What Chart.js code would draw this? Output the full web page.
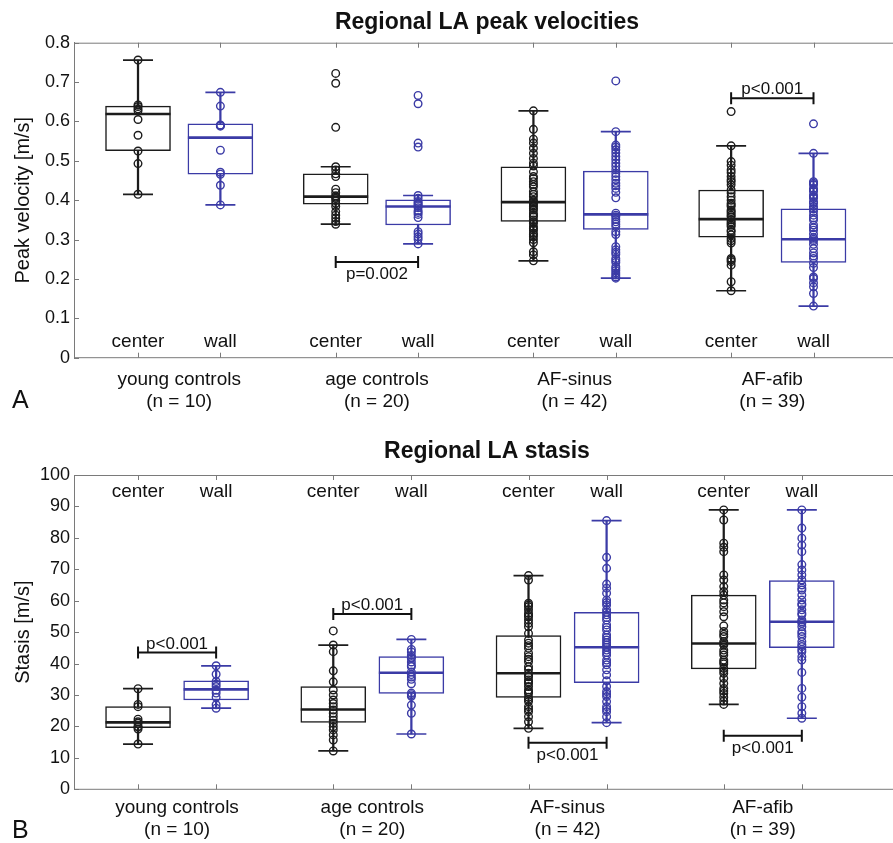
<!DOCTYPE html>
<html><head><meta charset="utf-8">
<script src="https://cdn.jsdelivr.net/npm/chart.js@4.4.1/dist/chart.umd.min.js"></script>
<style>
html,body{margin:0;padding:0;background:#fff;overflow:hidden;width:893px;height:843px;position:relative}
canvas{position:absolute;left:0}
#c1{top:0}#c2{top:420px}
</style></head>
<body>
<canvas id="c1" width="920" height="420"></canvas>
<canvas id="c2" width="920" height="423"></canvas>
<script>
// ---------- shared categories ----------
const groups = ['young controls', 'age controls', 'AF-sinus', 'AF-afib'];
const groupN = [10, 20, 42, 39];
const seriesNames = ['center', 'wall'];

// ---------- Panel A: peak velocity [m/s] ----------
const velTicks = [0, 0.1, 0.2, 0.3, 0.4, 0.5, 0.6, 0.7, 0.8];
const velCenterLow  = [0.415, 0.339, 0.246, 0.170];
const velCenterQ1   = [0.526, 0.390, 0.346, 0.306];
const velCenterMed  = [0.619, 0.409, 0.395, 0.352];
const velCenterQ3   = [0.639, 0.467, 0.485, 0.426];
const velCenterHigh = [0.756, 0.485, 0.627, 0.538];
const velWallLow  = [0.388, 0.289, 0.202, 0.131];
const velWallQ1   = [0.466, 0.337, 0.326, 0.242];
const velWallMed  = [0.559, 0.384, 0.364, 0.301];
const velWallQ3   = [0.594, 0.401, 0.474, 0.378];
const velWallHigh = [0.674, 0.412, 0.574, 0.519];
const velCenterYoung = [0.756, 0.642, 0.638, 0.632, 0.627, 0.605, 0.565, 0.525, 0.493, 0.415];
const velCenterAge = [0.722, 0.697, 0.585, 0.485, 0.477, 0.467, 0.460, 0.428, 0.419, 0.411, 0.408, 0.405, 0.399, 0.392, 0.384, 0.371, 0.362, 0.354, 0.346, 0.339];
const velCenterSinus = [0.627, 0.580, 0.555, 0.545, 0.532, 0.519, 0.506, 0.494, 0.487, 0.472, 0.460, 0.455, 0.447, 0.440, 0.434, 0.422, 0.415, 0.409, 0.400, 0.396, 0.392, 0.388, 0.384, 0.379, 0.375, 0.367, 0.362, 0.358, 0.350, 0.345, 0.341, 0.333, 0.328, 0.324, 0.316, 0.312, 0.307, 0.300, 0.292, 0.269, 0.261, 0.246];
const velCenterAfib = [0.625, 0.538, 0.498, 0.489, 0.477, 0.470, 0.460, 0.452, 0.447, 0.439, 0.426, 0.418, 0.409, 0.400, 0.392, 0.388, 0.384, 0.375, 0.371, 0.367, 0.362, 0.358, 0.350, 0.345, 0.341, 0.337, 0.333, 0.324, 0.320, 0.312, 0.303, 0.297, 0.291, 0.252, 0.248, 0.244, 0.235, 0.193, 0.170];
const velWallYoung = [0.674, 0.639, 0.591, 0.590, 0.588, 0.527, 0.471, 0.466, 0.438, 0.388];
const velWallAge = [0.666, 0.645, 0.545, 0.535, 0.412, 0.405, 0.397, 0.393, 0.390, 0.386, 0.381, 0.373, 0.369, 0.364, 0.356, 0.320, 0.314, 0.307, 0.301, 0.289];
const velWallSinus = [0.703, 0.574, 0.540, 0.535, 0.528, 0.520, 0.511, 0.503, 0.494, 0.486, 0.477, 0.468, 0.460, 0.452, 0.443, 0.437, 0.430, 0.420, 0.406, 0.367, 0.362, 0.358, 0.351, 0.345, 0.339, 0.333, 0.320, 0.313, 0.282, 0.274, 0.268, 0.263, 0.252, 0.247, 0.242, 0.231, 0.226, 0.221, 0.215, 0.210, 0.205, 0.202];
const velWallAfib = [0.594, 0.519, 0.447, 0.443, 0.439, 0.430, 0.426, 0.422, 0.413, 0.409, 0.405, 0.396, 0.392, 0.384, 0.378, 0.371, 0.362, 0.355, 0.350, 0.337, 0.330, 0.324, 0.314, 0.305, 0.301, 0.297, 0.288, 0.277, 0.266, 0.258, 0.252, 0.240, 0.229, 0.205, 0.201, 0.190, 0.180, 0.163, 0.131];
const velBrackets = [
  {group: 1, y: 0.243, label: 'p=0.002', above: false},
  {group: 3, y: 0.659, label: 'p<0.001', above: true}
];

// ---------- Panel B: stasis ----------
const stasisTicks = [0, 10, 20, 30, 40, 50, 60, 70, 80, 90, 100];
const stCenterLow  = [14.4, 12.2, 19.4, 27.0];
const stCenterQ1   = [19.6, 21.3, 29.2, 38.3];
const stCenterMed  = [21.3, 25.4, 36.9, 46.4];
const stCenterQ3   = [26.3, 32.7, 48.9, 61.8];
const stCenterHigh = [32.0, 45.9, 68.0, 88.9];
const stWallLow  = [25.8, 17.6, 21.2, 22.6];
const stWallQ1   = [28.4, 30.5, 33.9, 45.1];
const stWallMed  = [31.8, 37.1, 45.2, 53.3];
const stWallQ3   = [34.5, 42.2, 56.3, 66.4];
const stWallHigh = [39.3, 47.7, 85.5, 88.9];
const stCenterYoung = [32.0, 27.0, 26.3, 22.3, 21.5, 21.0, 20.0, 19.8, 19.2, 14.4];
const stCenterAge = [50.4, 45.9, 43.8, 37.7, 34.2, 31.6, 30.0, 28.4, 27.3, 26.3, 25.2, 24.2, 23.1, 22.0, 21.0, 19.9, 18.9, 17.3, 15.7, 12.2];
const stCenterSinus = [68.0, 66.6, 59.2, 58.6, 58.1, 57.1, 56.0, 55.4, 54.9, 53.9, 52.8, 51.7, 49.6, 47.5, 46.5, 45.7, 44.9, 43.3, 42.2, 41.4, 40.6, 39.0, 38.1, 36.9, 36.2, 35.8, 34.8, 34.2, 33.7, 32.7, 31.6, 31.0, 30.5, 29.3, 28.6, 27.9, 26.3, 25.5, 24.7, 23.1, 21.5, 19.4];
const stCenterAfib = [88.9, 85.7, 78.3, 77.0, 75.6, 68.2, 66.6, 64.5, 62.9, 61.8, 60.2, 59.3, 58.1, 56.5, 54.9, 52.0, 50.2, 49.3, 48.6, 47.0, 46.4, 45.9, 44.3, 43.5, 42.7, 41.1, 40.5, 39.9, 38.5, 37.7, 36.9, 35.3, 33.7, 32.1, 31.3, 30.5, 29.3, 28.1, 27.0];
const stWallYoung = [39.3, 36.6, 34.3, 33.5, 32.7, 31.5, 30.6, 29.3, 26.9, 25.8];
const stWallAge = [47.7, 44.5, 43.7, 42.6, 42.0, 41.6, 40.5, 39.5, 39.0, 37.3, 36.5, 35.7, 35.0, 33.6, 30.6, 30.1, 29.6, 26.8, 24.2, 17.6];
const stWallSinus = [85.5, 73.8, 70.3, 65.3, 64.0, 62.4, 60.2, 59.4, 58.6, 57.1, 56.3, 55.5, 54.7, 53.9, 52.3, 51.5, 50.7, 49.1, 48.3, 47.5, 46.7, 45.9, 45.2, 44.3, 43.5, 42.7, 41.1, 40.3, 39.6, 38.0, 36.4, 34.5, 32.7, 31.1, 30.3, 29.5, 27.9, 26.3, 25.5, 24.7, 23.1, 21.2];
const stWallAfib = [88.9, 83.1, 79.9, 77.7, 75.6, 71.5, 69.8, 68.2, 66.6, 65.0, 64.0, 63.4, 61.8, 60.2, 59.0, 58.6, 57.1, 56.0, 55.5, 53.9, 53.3, 52.8, 51.7, 50.2, 49.5, 48.6, 47.0, 46.0, 45.4, 44.5, 43.8, 42.2, 41.1, 37.2, 32.1, 29.3, 26.3, 24.2, 22.6];
const stBrackets = [
  {group: 0, y: 43.5, label: 'p<0.001', above: true},
  {group: 1, y: 55.8, label: 'p<0.001', above: true},
  {group: 2, y: 14.8, label: 'p<0.001', above: false},
  {group: 3, y: 17.0, label: 'p<0.001', above: false}
];

// ---------- layout / style (not data) ----------
const FONT = '"Liberation Sans", Arial, Helvetica, sans-serif';
const BLACK = '#1c1c1c';
const BLUE = '#3b3ba6';
const AXIS = '#7a7a7a';
Chart.defaults.font.family = FONT;
Chart.defaults.color = '#111';

function boxDatasets(pos, low, q1, med, q3, high, pts, color) {
  const pointData = [];
  pts.forEach((arr, i) => arr.forEach(v => pointData.push({x: pos[i], y: v})));
  return [
    {type: 'bar', data: pos.map((p, i) => ({x: p, y: [low[i], high[i]]})), barThickness: 1.6,
     backgroundColor: color, borderWidth: 0, grouped: false, order: 5},
    {type: 'bar', data: pos.map((p, i) => ({x: p, y: [q1[i], q3[i]]})), barThickness: 65,
     backgroundColor: '#ffffff', borderColor: color, borderWidth: 1.5, borderSkipped: false, grouped: false, order: 4},
    {type: 'scatter', data: pos.map((p, i) => ({x: p, y: med[i]})), showLine: false, pointStyle: 'line',
     pointRadius: 32.5, pointHoverRadius: 32.5, pointBorderWidth: 2.6, pointBorderColor: color, order: 3},
    {type: 'scatter', data: pos.flatMap((p, i) => [{x: p, y: low[i]}, {x: p, y: high[i]}]), showLine: false,
     pointStyle: 'line', pointRadius: 15, pointHoverRadius: 15, pointBorderWidth: 1.7, pointBorderColor: color, order: 2},
    {type: 'scatter', data: pointData, showLine: false, pointStyle: 'circle', pointRadius: 3.8, pointHoverRadius: 3.8,
     pointBorderWidth: 1.4, pointBorderColor: color, pointBackgroundColor: 'rgba(255,255,255,0)', order: 1}
  ];
}

function makeDeco(opts) {
  return {
    id: 'deco',
    beforeDatasetsDraw(chart) {
      const ctx = chart.ctx, a = chart.chartArea, xs = chart.scales.x, ys = chart.scales.y;
      ctx.save();
      ctx.strokeStyle = AXIS; ctx.lineWidth = 1;
      ctx.beginPath();
      ctx.moveTo(a.left, a.top + 0.5); ctx.lineTo(chart.width, a.top + 0.5);
      ctx.moveTo(a.left, a.bottom); ctx.lineTo(chart.width, a.bottom);
      // inward ticks
      opts.ticksY.forEach(v => { const y = Math.round(ys.getPixelForValue(v)) + 0.5; ctx.moveTo(a.left, y); ctx.lineTo(a.left + 5, y); });
      opts.posC.concat(opts.posW).forEach(v => {
        const x = Math.round(xs.getPixelForValue(v)) + 0.5;
        ctx.moveTo(x, a.bottom); ctx.lineTo(x, a.bottom - 5);
        ctx.moveTo(x, a.top); ctx.lineTo(x, a.top + 5);
      });
      ctx.stroke();
      ctx.restore();
    },
    afterDatasetsDraw(chart) {
      const ctx = chart.ctx, a = chart.chartArea, xs = chart.scales.x, ys = chart.scales.y;
      ctx.save();
      // center / wall labels
      ctx.font = '19px ' + FONT; ctx.fillStyle = '#111'; ctx.textAlign = 'center'; ctx.textBaseline = 'middle';
      const ly = opts.labelsBottom ? a.bottom - 16 : a.top + 17;
      opts.posC.forEach(v => ctx.fillText(seriesNames[0], xs.getPixelForValue(v), ly));
      opts.posW.forEach(v => ctx.fillText(seriesNames[1], xs.getPixelForValue(v), ly));
      // significance brackets
      ctx.strokeStyle = '#111'; ctx.lineWidth = 2; ctx.font = '17px ' + FONT; ctx.textBaseline = 'alphabetic';
      opts.brackets.forEach(b => {
        const x1 = xs.getPixelForValue(opts.posC[b.group]), x2 = xs.getPixelForValue(opts.posW[b.group]);
        const y = ys.getPixelForValue(b.y);
        ctx.beginPath();
        ctx.moveTo(x1, y); ctx.lineTo(x2, y);
        ctx.moveTo(x1, y - 6); ctx.lineTo(x1, y + 6);
        ctx.moveTo(x2, y - 6); ctx.lineTo(x2, y + 6);
        ctx.stroke();
        ctx.fillText(b.label, (x1 + x2) / 2, b.above ? y - 4 : y + 17);
      });
      // panel letter
      ctx.font = '25px ' + FONT; ctx.textAlign = 'left'; ctx.fillStyle = '#111';
      ctx.fillText(opts.letter, 12, opts.letterY);
      ctx.restore();
    }
  };
}

function makeChart(id, o) {
  const mids = o.posC.map((c, i) => (c + o.posW[i]) / 2);
  const datasets = [
    ...boxDatasets(o.posC, o.cLow, o.cQ1, o.cMed, o.cQ3, o.cHigh, o.cPts, BLACK),
    ...boxDatasets(o.posW, o.wLow, o.wQ1, o.wMed, o.wQ3, o.wHigh, o.wPts, BLUE)
  ];
  return new Chart(document.getElementById(id), {
    type: 'scatter',
    data: {datasets},
    options: {
      responsive: false, animation: false, events: [],
      layout: {autoPadding: false, padding: {top: 0, right: 20, left: 0, bottom: 0}},
      plugins: {
        legend: {display: false}, tooltip: {enabled: false},
        title: {display: true, text: o.title, fullSize: false, color: '#111',
                font: {size: 23, weight: 'bold', family: FONT, lineHeight: 1.2},
                padding: {top: o.titlePadTop, bottom: o.titlePadBottom}}
      },
      scales: {
        x: {
          type: 'linear', min: o.xMin, max: o.xMax, offset: false,
          grid: {display: false, drawTicks: false},
          border: {display: false},
          afterBuildTicks: s => { s.ticks = mids.map(v => ({value: v})); },
          afterFit: s => { s.height = o.xAxisHeight; s.paddingLeft = 0; s.paddingRight = 0; },
          ticks: {
            autoSkip: false, maxRotation: 0, minRotation: 0, padding: o.xTickPad, color: '#111',
            font: {size: 19, family: FONT, lineHeight: 1.15},
            callback: (v, i) => [groups[i], '(n = ' + groupN[i] + ')']
          }
        },
        y: {
          type: 'linear', min: o.ticksY[0], max: o.ticksY[o.ticksY.length - 1],
          grid: {display: false, drawTicks: false},
          border: {display: true, color: AXIS, width: 1},
          afterBuildTicks: s => { s.ticks = o.ticksY.map(v => ({value: v})); },
          afterFit: s => { s.width = 74; s.paddingTop = 0; s.paddingBottom = 0; },
          ticks: {padding: 4, color: '#111', font: {size: 18, family: FONT},
                  callback: v => String(+v.toFixed(2))},
          title: {display: true, text: o.yTitle, color: '#111', font: {size: 20, family: FONT, lineHeight: 1.2},
                  padding: {top: 11, bottom: 0}}
        }
      }
    },
    plugins: [makeDeco({ticksY: o.ticksY, posC: o.posC, posW: o.posW, brackets: o.brackets,
                        labelsBottom: o.labelsBottom, letter: o.letter, letterY: o.letterY})]
  });
}

makeChart('c1', {
  title: 'Regional LA peak velocities', yTitle: 'Peak velocity [m/s]',
  titlePadTop: 9.2, titlePadBottom: 5.9, xAxisHeight: 62.3, xTickPad: 11,
  xMin: 0.223, xMax: 10.25, posC: [1, 3.4, 5.8, 8.2], posW: [2, 4.4, 6.8, 9.2],
  ticksY: velTicks,
  cLow: velCenterLow, cQ1: velCenterQ1, cMed: velCenterMed, cQ3: velCenterQ3, cHigh: velCenterHigh,
  cPts: [velCenterYoung, velCenterAge, velCenterSinus, velCenterAfib],
  wLow: velWallLow, wQ1: velWallQ1, wMed: velWallMed, wQ3: velWallQ3, wHigh: velWallHigh,
  wPts: [velWallYoung, velWallAge, velWallSinus, velWallAfib],
  brackets: velBrackets, labelsBottom: true, letter: 'A', letterY: 408
});

makeChart('c2', {
  title: 'Regional LA stasis', yTitle: 'Stasis [m/s]',
  titlePadTop: 18.2, titlePadBottom: 9.2, xAxisHeight: 53.7, xTickPad: 8,
  xMin: 0.18, xMax: 10.757, posC: [1, 3.5, 6, 8.5], posW: [2, 4.5, 7, 9.5],
  ticksY: stasisTicks,
  cLow: stCenterLow, cQ1: stCenterQ1, cMed: stCenterMed, cQ3: stCenterQ3, cHigh: stCenterHigh,
  cPts: [stCenterYoung, stCenterAge, stCenterSinus, stCenterAfib],
  wLow: stWallLow, wQ1: stWallQ1, wMed: stWallMed, wQ3: stWallQ3, wHigh: stWallHigh,
  wPts: [stWallYoung, stWallAge, stWallSinus, stWallAfib],
  brackets: stBrackets, labelsBottom: false, letter: 'B', letterY: 418
});
</script>
</body></html>
